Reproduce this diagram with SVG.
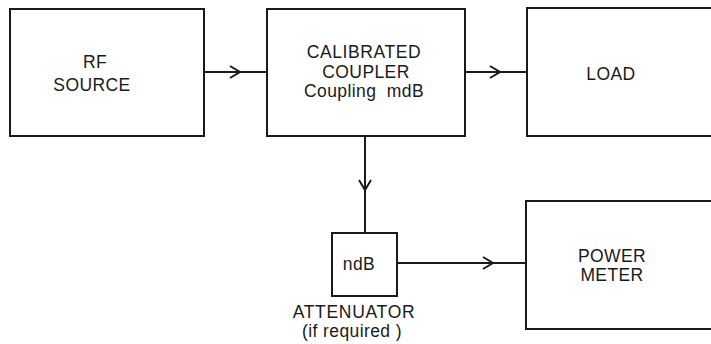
<svg xmlns="http://www.w3.org/2000/svg" width="711" height="344" viewBox="0 0 711 344">
<defs>
<style>
.box{fill:none;stroke:#1a1a1a;stroke-width:2}
.ln{fill:none;stroke:#1a1a1a;stroke-width:2;marker-mid:url(#chev)}
text{font-family:"Liberation Sans",Arial,sans-serif;font-size:17.5px;fill:#1a1a1a;text-anchor:middle;letter-spacing:0.4px;white-space:pre}
</style>
<marker id="chev" markerWidth="14" markerHeight="14" refX="11" refY="7" orient="auto" markerUnits="userSpaceOnUse">
<path d="M1,1 L11,7 L1,13" fill="none" stroke="#1a1a1a" stroke-width="2"/>
</marker>
</defs>
<rect width="711" height="344" fill="#fff"/>
<g id="rf-source">
<rect class="box" x="10" y="9" width="194" height="127"/>
<text x="95" y="68">RF</text>
<text x="92" y="91">SOURCE</text>
</g>
<g id="coupler">
<rect class="box" x="267" y="9" width="198" height="127"/>
<text x="364" y="58" style="letter-spacing:0.6px">CALIBRATED</text>
<text x="366" y="78">COUPLER</text>
<text x="364" y="97" xml:space="preserve">Coupling  mdB</text>
</g>
<g id="load">
<rect class="box" x="527" y="8" width="200" height="128"/>
<text x="611" y="80">LOAD</text>
</g>
<g id="attenuator">
<rect class="box" x="332" y="233" width="65" height="63"/>
<text x="359" y="270">ndB</text>
<text x="354" y="318" style="letter-spacing:0.7px">ATTENUATOR</text>
<text x="352" y="337" xml:space="preserve">(if required )</text>
</g>
<g id="power-meter">
<rect class="box" x="526" y="201" width="200" height="128"/>
<text x="612" y="262">POWER</text>
<text x="612" y="281">METER</text>
</g>
<g id="connectors">
<path class="ln" d="M204,72 L240,72 L267,72"/>
<path class="ln" d="M465,72 L500,72 L527,72"/>
<path class="ln" d="M365,136 L365,190 L365,233"/>
<path class="ln" d="M397,263 L493,263 L526,263"/>
</g>
</svg>
